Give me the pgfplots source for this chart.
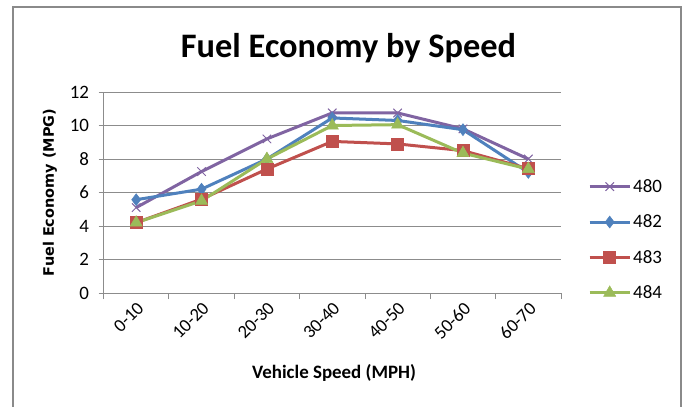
\documentclass[border=0pt]{standalone}
\usepackage{pgfplots}
\pgfplotsset{compat=1.18}
\usepackage{fontspec}
\setmainfont{Carlito}
\newfontfamily\ylabfont{DejaVu Sans}
\definecolor{cPurple}{HTML}{8064A2}
\definecolor{cBlue}{HTML}{4F81BD}
\definecolor{cRed}{HTML}{C0504D}
\definecolor{cGreen}{HTML}{9BBB59}
\definecolor{cGrid}{HTML}{8C8C8C}
\definecolor{cFrame}{HTML}{8A8A8A}
\begin{document}
\begin{tikzpicture}[x=1bp,y=1bp]
\path[use as bounding box] (0,0) rectangle (686,406);
\draw[color=cFrame, line width=1.5bp] (13,-10) -- (13,399) -- (681,399) -- (681,-10);
\node[font=\bfseries\fontsize{34.5}{38}\selectfont] at (348.5,358) {Fuel Economy by Speed};
\begin{axis}[
  at={(103.5bp,113bp)}, anchor=south west,
  scale only axis, width=457.5bp, height=201bp,
  xmin=0, xmax=7, ymin=0, ymax=12,
  ytick={0,2,...,12},
  ymajorgrids, grid style={cGrid, line width=0.8bp},
  axis x line*=bottom, axis y line*=left,
  axis line style={cGrid, line width=0.8bp},
  xtick={0.5,1.5,...,6.5},
  xticklabels={0-10,10-20,20-30,30-40,40-50,50-60,60-70},
  major x tick style={draw=none},
  minor xtick={0,1,...,7},
  minor tick length=6bp,
  major tick length=5bp,
  tick align=outside,
  tick style={cGrid, line width=0.8bp},
  x tick label style={rotate=45, anchor=north east, font=\fontsize{18.5}{20}\selectfont, inner sep=2bp},
  y tick label style={font=\fontsize{19}{20}\selectfont, xshift=-6bp},
  /pgf/number format/assume math mode=true,
  xlabel={\textbf{Vehicle Speed (MPH)}},
  xlabel style={at={(axis description cs:0.504,-0.398)}, anchor=center, font=\fontsize{19}{20}\selectfont},
  ylabel={Fuel Economy (MPG)},
  ylabel style={at={(axis description cs:-0.117,0.5)}, anchor=center, font=\ylabfont\bfseries\fontsize{14.5}{16}\selectfont},
  legend style={at={(1.059,0.265)}, anchor=west, draw=none, fill=none,
    font=\fontsize{19}{20}\selectfont, row sep=17bp, inner sep=0pt,
    /tikz/every even column/.append style={column sep=1bp}},
  legend cell align=left,
  legend image code/.code={\draw[mark repeat=2,mark phase=2] plot coordinates {(0bp,0bp) (20bp,0bp) (40bp,0bp)};},
  every axis plot/.append style={line width=3bp},
]
\addplot[color=cPurple, mark=x, mark size=6bp, mark options={line width=1bp}] coordinates {
(0.5,5.1) (1.5,7.25) (2.5,9.2) (3.5,10.75) (4.5,10.75) (5.5,9.8) (6.5,8.0)};
\addlegendentry{480}
\addplot[color=cBlue, mark=diamond*, mark size=6bp, mark options={line width=0.5bp}] coordinates {
(0.5,5.57) (1.5,6.2) (2.5,8.0) (3.5,10.45) (4.5,10.3) (5.5,9.75) (6.5,7.2)};
\addlegendentry{482}
\addplot[color=cRed, mark=square*, mark size=6bp, mark options={line width=0.5bp}] coordinates {
(0.5,4.2) (1.5,5.6) (2.5,7.4) (3.5,9.05) (4.5,8.9) (5.5,8.5) (6.5,7.42)};
\addlegendentry{483}
\addplot[color=cGreen, mark=triangle*, mark size=7bp, mark options={line width=0.5bp}] coordinates {
(0.5,4.2) (1.5,5.5) (2.5,8.0) (3.5,10.0) (4.5,10.05) (5.5,8.35) (6.5,7.4)};
\addlegendentry{484}
\end{axis}
\end{tikzpicture}
\end{document}
